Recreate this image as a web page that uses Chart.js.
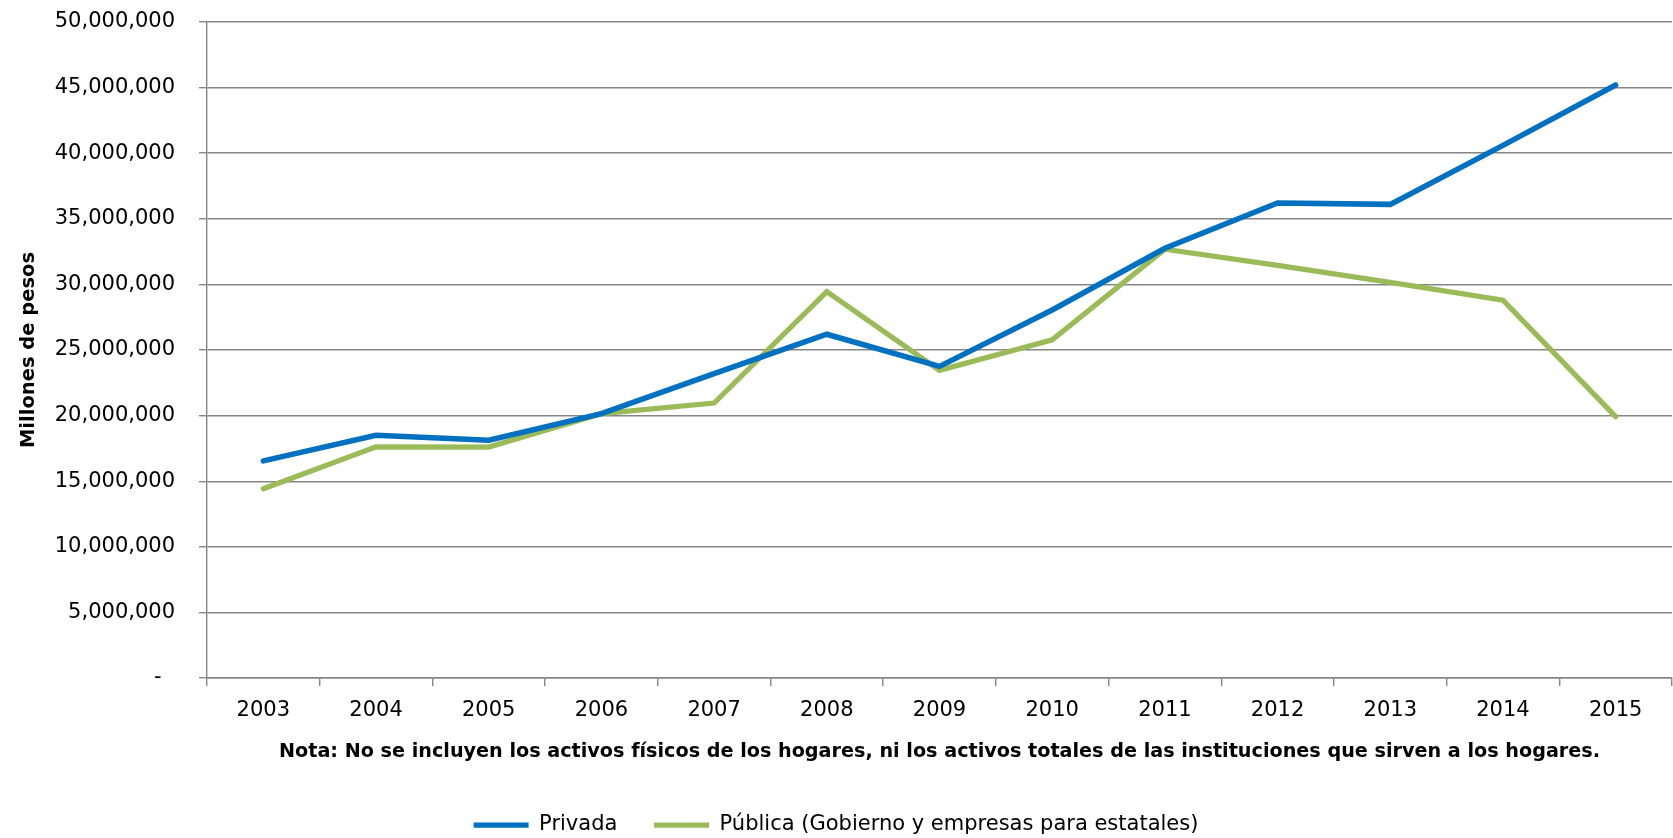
<!DOCTYPE html>
<html>
<head>
<meta charset="utf-8">
<script src="https://cdn.jsdelivr.net/npm/chart.js@4"></script>
<style>
  html, body { margin: 0; padding: 0; background: #fff; overflow: hidden; }
  .chart-box { width: 1673px; height: 838px; position: relative; }
</style>
</head>
<body>
<div class="chart-box"><canvas id="chart"></canvas></div>
<script>
// data
const years = ['2003', '2004', '2005', '2006', '2007', '2008', '2009', '2010', '2011', '2012', '2013', '2014', '2015'];
const privada = [16550000, 18500000, 18120000, 20150000, 23200000, 26200000, 23750000, 28050000, 32750000, 36200000, 36100000, 40600000, 45200000];
const publica = [14420000, 17620000, 17600000, 20150000, 20960000, 29450000, 23450000, 25780000, 32680000, 31450000, 30150000, 28800000, 19920000];
const seriesNames = ['Privada', 'Pública (Gobierno y empresas para estatales)'];
const yTicks = { min: 0, max: 50000000, step: 5000000 };

const gridGray = '#868686';

Chart.defaults.font.family = "'DejaVu Sans', sans-serif";
Chart.defaults.color = '#000';

new Chart(document.getElementById('chart'), {
    type: 'line',
    data: {
        labels: years,
        datasets: [{
            label: seriesNames[0],
            data: privada,
            borderColor: '#0070C0',
            backgroundColor: '#0070C0',
            borderWidth: 5.5,
            borderCapStyle: 'round',
            pointRadius: 0,
            pointHoverRadius: 0,
            tension: 0
        }, {
            label: seriesNames[1],
            data: publica,
            borderColor: '#9BBB59',
            backgroundColor: '#9BBB59',
            borderWidth: 5.25,
            borderCapStyle: 'round',
            pointRadius: 0,
            pointHoverRadius: 0,
            tension: 0
        }]
    },
    options: {
        responsive: true,
        maintainAspectRatio: false,
        animation: false,
        layout: {
            padding: { top: 22, right: 1, left: 0, bottom: -7.5 }
        },
        scales: {
            x: {
                offset: true,
                grid: {
                    offset: true,
                    drawOnChartArea: false,
                    drawTicks: true,
                    tickLength: 8,
                    color: gridGray,
                    lineWidth: 1.4
                },
                border: { color: gridGray, width: 1.4 },
                ticks: {
                    font: { size: 21 },
                    color: '#000',
                    padding: 12,
                    maxRotation: 0
                },
                title: {
                    display: true,
                    text: 'Nota: No se incluyen los activos físicos de los hogares, ni los activos totales de las instituciones que sirven a los hogares.',
                    font: { size: 19.2, weight: 'bold' },
                    color: '#000',
                    padding: { top: 5.3, bottom: 40.96 }
                }
            },
            y: {
                min: yTicks.min,
                max: yTicks.max,
                grid: {
                    color: gridGray,
                    lineWidth: 1.4,
                    tickLength: 8
                },
                border: { color: gridGray, width: 1.4 },
                ticks: {
                    stepSize: yTicks.step,
                    font: { size: 21 },
                    color: '#000',
                    padding: 24,
                    callback: (value) => value === 0 ? '-  ' : value.toLocaleString('en-US')
                },
                title: {
                    display: true,
                    text: 'Millones de pesos',
                    font: { size: 19.5, weight: 'bold' },
                    color: '#000',
                    padding: { top: 17.3, bottom: 0 }
                },
                afterFit: (scale) => {
                    scale.width = 207;
                    scale.paddingTop = 0;
                    scale.paddingBottom = 0;
                }
            }
        },
        plugins: {
            legend: {
                position: 'bottom',
                labels: {
                    usePointStyle: true,
                    pointStyle: 'line',
                    pointStyleWidth: 55,
                    padding: 10,
                    color: '#000',
                    font: { size: 21 },
                    generateLabels: (chart) => {
                        const items = Chart.defaults.plugins.legend.labels.generateLabels(chart);
                        items.forEach((item, i) => {
                            item.lineWidth = 5.25;
                            if (i < items.length - 1) item.text += '    ';
                        });
                        return items;
                    }
                }
            },
            tooltip: { enabled: false }
        }
    }
});
</script>
</body>
</html>
